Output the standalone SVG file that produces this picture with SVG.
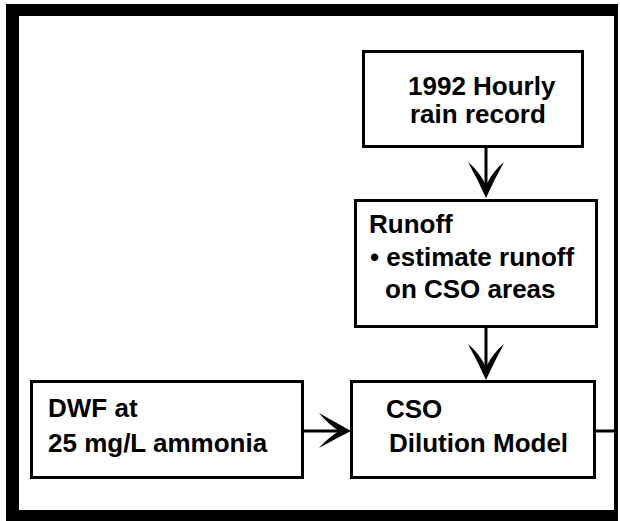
<svg xmlns="http://www.w3.org/2000/svg" width="620" height="521" viewBox="0 0 620 521">
<defs>
<style>
.box{fill:#fff;stroke:#000;stroke-width:3}
.t{font-family:"Liberation Sans",Arial,sans-serif;font-weight:bold;font-size:26px;fill:#000}
.ln{stroke:#000;stroke-width:3;fill:none}
.ah{fill:#000}
</style>
</defs>
<rect width="620" height="521" fill="#fff"/>
<path d="M6,4 H618 V521 H6 Z M19,16 V510 H614 V16 Z" fill="#000" fill-rule="evenodd"/>
<g id="connectors">
<line class="ln" x1="486" y1="146" x2="486" y2="190"/>
<path class="ah" d="M486,198 Q478,180 468,162 Q479,171 486,185 Q493,171 504,162 Q494,180 486,198 Z"/>
<line class="ln" x1="486" y1="327" x2="486" y2="372"/>
<path class="ah" d="M486,380 Q478,362 468,344 Q479,353 486,367 Q493,353 504,344 Q494,362 486,380 Z"/>
<line class="ln" x1="302" y1="431" x2="344" y2="431"/>
<path class="ah" d="M351,431 Q335,422 319,413 Q328,424 339,431 Q328,438 319,448 Q335,439 351,431 Z"/>
<line class="ln" x1="595" y1="431" x2="614" y2="431"/>
</g>
<g id="rain">
<rect class="box" x="363.5" y="51.5" width="219" height="95"/>
<text class="t" x="408" y="95">1992 Hourly</text>
<text class="t" x="410" y="123">rain record</text>
</g>
<g id="runoff">
<rect class="box" x="355.5" y="200.5" width="241" height="126"/>
<text class="t" x="369" y="233">Runoff</text>
<text class="t" x="370" y="266">• estimate runoff</text>
<text class="t" x="385" y="298">on CSO areas</text>
</g>
<g id="dwf">
<rect class="box" x="31.5" y="381.5" width="271" height="96"/>
<text class="t" x="48" y="417">DWF at</text>
<text class="t" x="48" y="452">25 mg/L ammonia</text>
</g>
<g id="cso">
<rect class="box" x="351.5" y="381.5" width="243" height="96"/>
<text class="t" x="386" y="418">CSO</text>
<text class="t" x="389" y="452">Dilution Model</text>
</g>
</svg>
